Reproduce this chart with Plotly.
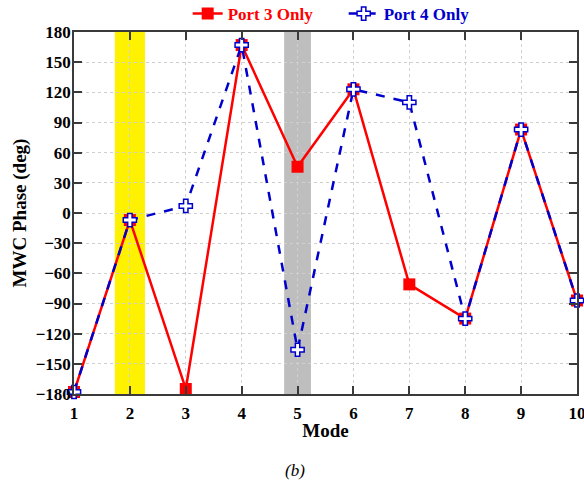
import plotly.graph_objects as go

modes = [1, 2, 3, 4, 5, 6, 7, 8, 9, 10]
port3_phase = [-178, -7, -175, 167, 46, 123, -71, -105, 83, -87]
port4_phase = [-178, -7, 7, 167, -136, 123, 110, -105, 83, -87]

highlight_modes = [2, 5]
highlight_halfwidth = [0.27, 0.24]
highlight_colors = ["#FFF200", "#BEBEBE"]

y_ticks = list(range(-180, 181, 30))

FONT = "Liberation Serif, Times New Roman, serif"

fig = go.Figure()

fig.add_trace(go.Scatter(
    x=modes, y=port3_phase, mode="lines+markers",
    name="<span style='color:#FF0000'>Port 3 Only</span>",
    line=dict(color="#FF0000", width=2.5),
    marker=dict(symbol="square", size=12, color="#FF0000"),
    cliponaxis=False,
))
fig.add_trace(go.Scatter(
    x=modes, y=port4_phase, mode="lines+markers",
    name="<span style='color:#0000CC'>Port 4 Only</span>",
    line=dict(color="#0000CC", width=2.5, dash="dash"),
    marker=dict(symbol="cross", size=11, color="white",
                line=dict(color="#0000CC", width=1.5)),
    cliponaxis=False,
))

for m, hw, c in zip(highlight_modes, highlight_halfwidth, highlight_colors):
    fig.add_shape(type="rect", xref="x", yref="y",
                  x0=m - hw, x1=m + hw, y0=-180, y1=180,
                  fillcolor=c, line=dict(width=0), layer="below")

axis_common = dict(
    showline=True, linecolor="#3A3A3A", linewidth=1.5, mirror="ticks",
    ticks="inside", ticklen=8, tickcolor="#3A3A3A", tickwidth=1.5,
    showgrid=True, gridcolor="#D0D0D0", griddash="dot", gridwidth=1,
    zeroline=False, automargin=False, ticklabeloverflow="allow",
    tickfont=dict(family=FONT, size=17, color="black", weight="bold"),
)

fig.update_xaxes(
    range=[1, 10], tickvals=modes, ticklabelstandoff=3,
    title=dict(text="Mode", font=dict(family=FONT, size=19, color="black", weight="bold"), standoff=2),
    **axis_common,
)
fig.update_yaxes(
    range=[-180, 180], tickvals=y_ticks, ticklabelstandoff=-2,
    title=dict(text="MWC Phase (deg)", font=dict(family=FONT, size=19, color="black", weight="bold"), standoff=4),
    **axis_common,
)

fig.add_annotation(text="<i>(b)</i>", xref="paper", yref="paper",
                   x=0.44, y=-0.21, xanchor="center", yanchor="middle",
                   showarrow=False, font=dict(family=FONT, size=17, color="black"))

fig.update_layout(
    width=584, height=485,
    margin=dict(l=74, r=7, t=32, b=91, autoexpand=False),
    paper_bgcolor="white", plot_bgcolor="white",
    showlegend=True,
    legend=dict(orientation="h", x=0.226, xanchor="left", y=1.0, yanchor="bottom",
                font=dict(family=FONT, size=17, color="black", weight="bold"),
                bgcolor="rgba(0,0,0,0)", entrywidth=111, tracegroupgap=0),
)

fig.write_html("out.html")
